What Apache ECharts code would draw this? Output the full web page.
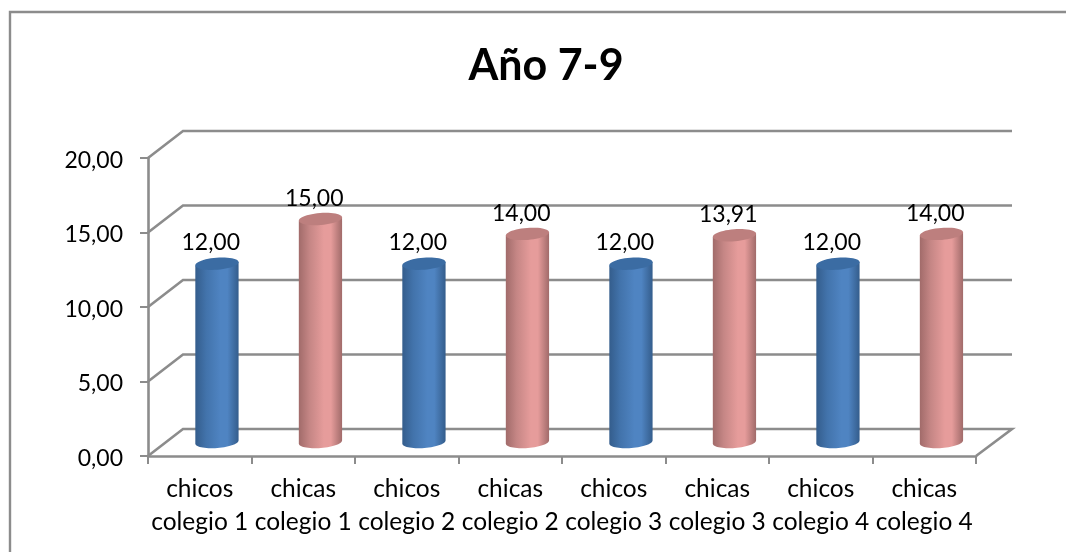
<!DOCTYPE html>
<html><head><meta charset="utf-8">
<style>html,body{margin:0;padding:0;background:#fff}#c{width:1066px;height:552px}</style>
<script src="https://cdn.jsdelivr.net/npm/echarts@6/dist/echarts.min.js"></script>
</head><body><div id="c"></div>
<script>
const titleText = 'Año 7-9';
const categories = ['chicos\ncolegio 1','chicas\ncolegio 1','chicos\ncolegio 2','chicas\ncolegio 2','chicos\ncolegio 3','chicas\ncolegio 3','chicos\ncolegio 4','chicas\ncolegio 4'];
const values = [12, 15, 12, 14, 12, 13.91, 12, 14];
const gridValues = [0, 5, 10, 15, 20];
const bluePalette = {edge:'#345d8c', shade:'#4273ab', mid:'#4f84c2', cap:'#3b6ca3'};
const pinkPalette = {edge:'#a16b6a', shade:'#c58685', mid:'#e69c9b', cap:'#bd7f7e'};

const FONT = 'Lato, "Open Sans", sans-serif';
const GREY = '#8c8c8c';
const DEPTH_X = 35, DEPTH_Y = 27;
const fmt = v => v.toFixed(2).replace('.', ',');

function ellipsePts(cx, cy, a, b, tilt, from, to, n) {
  const pts = [], c = Math.cos(tilt), s = Math.sin(tilt);
  for (let i = 0; i <= n; i++) {
    const t = from + (to - from) * i / n;
    const x = a * Math.cos(t), y = b * Math.sin(t);
    pts.push([cx + x * c - y * s, cy + x * s + y * c]);
  }
  return pts;
}

function renderWall(params, api) {
  const r = params.coordSys, v = api.value(1);
  const y = api.coord([0, v])[1];
  const pts = [[r.x, y], [r.x + DEPTH_X, y - DEPTH_Y], [r.x + r.width + DEPTH_X + 1, y - DEPTH_Y]];
  if (v === 0) pts.push([r.x + r.width, y]);
  return {type: 'polyline', shape: {points: pts}, style: {stroke: GREY, lineWidth: 2.6, fill: null}, silent: true};
}

function renderCyl(params, api) {
  const i = api.value(0), v = api.value(1);
  const front = api.coord([i, v]), base = api.coord([i, 0]);
  const pal = i % 2 === 0 ? bluePalette : pinkPalette;
  const cx = front[0] + 17.2, a = 21.7, b = 6, tilt = -4.5 * Math.PI / 180;
  const cyTop = front[1] - 13.5, cyBot = base[1] - 14;
  const topSide = ellipsePts(cx, cyTop, a, b, tilt, 0, Math.PI, 30);
  const botArc = ellipsePts(cx, cyBot, a, b, tilt, Math.PI, 0, 30);
  const body = [topSide[topSide.length - 1]].concat(botArc, [topSide[0]]);
  return {type: 'group', children: [
    {type: 'polygon', shape: {points: body}, style: {fill: {
      type: 'linear', x: 0, y: 0, x2: 1, y2: 0,
      colorStops: [{offset: 0, color: pal.edge}, {offset: 0.25, color: pal.shade}, {offset: 0.58, color: pal.mid}, {offset: 0.74, color: pal.mid}, {offset: 1, color: pal.edge}]
    }}},
    {type: 'polygon', shape: {points: ellipsePts(cx, cyTop, a, b, tilt, 0, Math.PI * 2, 48)}, style: {fill: pal.cap}},
    {type: 'text', z2: 10, style: {text: fmt(v), x: cx - 6.2, y: front[1] - 34.2, textAlign: 'center', textVerticalAlign: 'middle', fill: '#000', font: '23px ' + FONT}}
  ]};
}

const chart = echarts.init(document.getElementById('c'), null, {renderer: 'canvas'});
chart.setOption({
  animation: false,
  backgroundColor: '#fff',
  title: {text: titleText, left: 541, top: 40, textAlign: 'center', textStyle: {fontFamily: FONT, fontWeight: 'bold', fontSize: 43, color: '#000'}},
  graphic: [{type: 'rect', silent: true, shape: {x: 10, y: 12, width: 1300, height: 800}, style: {fill: null, stroke: GREY, lineWidth: 2.4}}],
  grid: {left: 148, right: 90, top: 158, bottom: 96, containLabel: false},
  xAxis: {type: 'category', data: categories, boundaryGap: true,
    axisLine: {lineStyle: {color: GREY, width: 2.6}},
    axisTick: {show: true, length: 8, lineStyle: {color: GREY, width: 2}},
    axisLabel: {interval: 0, color: '#000', fontFamily: FONT, fontSize: 24.5, lineHeight: 32.5, margin: 17}},
  yAxis: {type: 'value', min: 0, max: 20, interval: 5,
    axisLine: {show: true, lineStyle: {color: GREY, width: 2.6}},
    axisTick: {show: true, length: 8, lineStyle: {color: GREY, width: 2}},
    splitLine: {show: false},
    axisLabel: {color: '#000', fontFamily: FONT, fontSize: 23, margin: 25, verticalAlign: 'top', lineHeight: 5, formatter: v => fmt(v)}},
  series: [
    {type: 'custom', z: 1, clip: false, silent: true, renderItem: renderWall, data: gridValues.map(v => [0, v]), encode: {x: 0, y: 1}},
    {type: 'custom', z: 3, clip: false, silent: true, renderItem: renderCyl, data: values.map((v, i) => [i, v]), encode: {x: 0, y: 1}}
  ]
});
</script></body></html>
